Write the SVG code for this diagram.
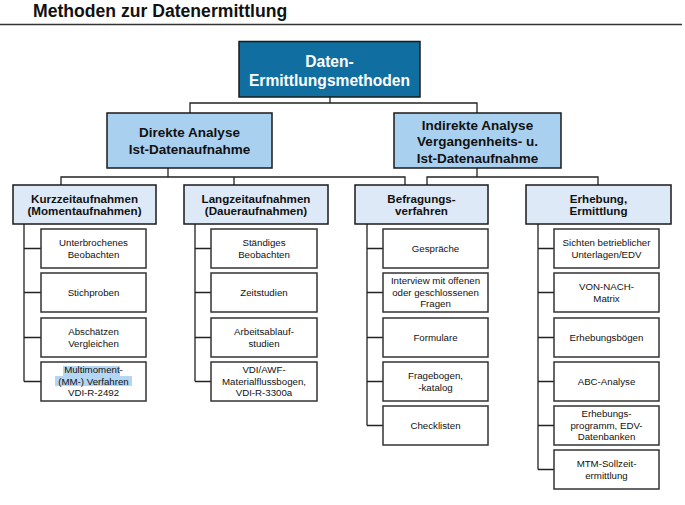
<svg xmlns="http://www.w3.org/2000/svg" width="685" height="505" viewBox="0 0 685 505">
<style>
text{font-family:"Liberation Sans",Arial,sans-serif;text-anchor:middle;fill:#111}
.title{font-size:17.6px;font-weight:bold;text-anchor:start}
.top rect{fill:#106ea1;stroke:#1a1a1a;stroke-width:1.5}
.top text{fill:#fff;font-size:15.6px;font-weight:bold}
.l2 rect{fill:#aad0f0;stroke:#1a1a1a;stroke-width:1.5}
.l2 text{font-size:13.5px;font-weight:bold}
.l3 rect{fill:#dde9f6;stroke:#1a1a1a;stroke-width:1.5}
.l3 text{font-size:11.6px;font-weight:bold}
.c rect{fill:#fff;stroke:#333;stroke-width:1.5}
.c text{font-size:9.7px}
.c rect.hl{fill:#b5d6f2;stroke:none}
#connectors path{fill:none;stroke:#222;stroke-width:1.3}
</style>
<rect width="685" height="505" fill="#fff"/>
<text class="title" x="33" y="16.5">Methoden zur Datenermittlung</text>
<line x1="0" y1="24.5" x2="682" y2="24.5" stroke="#333" stroke-width="1.6"/>

<g id="connectors">
<path d="M330,97V103M190,113V103H477V113"/>
<path d="M168,168V177M61,185V177H405V185M234,177V185"/>
<path d="M477,168V177M427,185V177H598V185"/>
<path d="M24,224V381.5M24,248.5H41M24,292.5H41M24,337.5H41M24,381.5H41"/>
<path d="M195,224V381.5M195,248.5H211M195,292.5H211M195,337.5H211M195,381.5H211"/>
<path d="M367,224V425.5M367,248.5H383M367,292.5H383M367,337.5H383M367,381.5H383M367,425.5H383"/>
<path d="M538,224V469.5M538,248.5H554M538,292.5H554M538,337.5H554M538,381.5H554M538,425.5H554M538,469.5H554"/>
</g>

<g id="n-top" class="top"><rect x="239" y="41.5" width="181" height="55.5"/><text x="329.5" y="66.6">Daten-</text><text x="329.5" y="85.6">Ermittlungsmethoden</text></g>

<g id="n-direkt" class="l2"><rect x="107" y="113" width="165" height="55"/><text x="189.5" y="137">Direkte Analyse</text><text x="189.5" y="153.5">Ist-Datenaufnahme</text></g>
<g id="n-indirekt" class="l2"><rect x="394" y="113" width="167" height="55"/><text x="477.5" y="129.8">Indirekte Analyse</text><text x="477.5" y="146.3">Vergangenheits- u.</text><text x="477.5" y="162.8">Ist-Datenaufnahme</text></g>

<g id="n-kurz" class="l3"><rect x="13" y="185" width="143" height="39"/><text x="84.5" y="202.8">Kurzzeitaufnahmen</text><text x="84.5" y="215">(Momentaufnahmen)</text></g>
<g id="n-lang" class="l3"><rect x="184" y="185" width="144" height="39"/><text x="256" y="202.8">Langzeitaufnahmen</text><text x="256" y="215">(Daueraufnahmen)</text></g>
<g id="n-befr" class="l3"><rect x="355" y="185" width="133" height="39"/><text x="421.5" y="202.8">Befragungs-</text><text x="421.5" y="215">verfahren</text></g>
<g id="n-erh" class="l3"><rect x="526" y="185" width="145" height="39"/><text x="598.5" y="202.8">Erhebung,</text><text x="598.5" y="215">Ermittlung</text></g>

<g id="k1" class="c"><rect x="41" y="229" width="105" height="39"/><text x="93.5" y="246.15">Unterbrochenes</text><text x="93.5" y="257.65">Beobachten</text></g>
<g id="k2" class="c"><rect x="41" y="273" width="105" height="39"/><text x="93.5" y="295.9">Stichproben</text></g>
<g id="k3" class="c"><rect x="41" y="318" width="105" height="39"/><text x="93.5" y="335.15">Abschätzen</text><text x="93.5" y="346.65">Vergleichen</text></g>
<g id="k4" class="c"><rect x="41" y="362" width="105" height="39"/><rect class="hl" x="63" y="366" width="57" height="10"/><rect class="hl" x="55" y="376" width="77" height="10"/><text x="93.5" y="373.4">Multimoment-</text><text x="93.5" y="384.9">(MM-) Verfahren</text><text x="93.5" y="396.4">VDI-R-2492</text></g>

<g id="l1" class="c"><rect x="211" y="229" width="106" height="39"/><text x="264" y="246.15">Ständiges</text><text x="264" y="257.65">Beobachten</text></g>
<g id="l2" class="c"><rect x="211" y="273" width="106" height="39"/><text x="264" y="295.9">Zeitstudien</text></g>
<g id="l3" class="c"><rect x="211" y="318" width="106" height="39"/><text x="264" y="335.15">Arbeitsablauf-</text><text x="264" y="346.65">studien</text></g>
<g id="l4" class="c"><rect x="211" y="362" width="106" height="39"/><text x="264" y="373.4">VDI/AWF-</text><text x="264" y="384.9">Materialflussbogen,</text><text x="264" y="396.4">VDI-R-3300a</text></g>

<g id="b1" class="c"><rect x="383" y="229" width="105" height="39"/><text x="435.5" y="251.9">Gespräche</text></g>
<g id="b2" class="c"><rect x="383" y="273" width="105" height="39"/><text x="435.5" y="284.4">Interview mit offenen</text><text x="435.5" y="295.9">oder geschlossenen</text><text x="435.5" y="307.4">Fragen</text></g>
<g id="b3" class="c"><rect x="383" y="318" width="105" height="39"/><text x="435.5" y="340.9">Formulare</text></g>
<g id="b4" class="c"><rect x="383" y="362" width="105" height="39"/><text x="435.5" y="379.15">Fragebogen,</text><text x="435.5" y="390.65">-katalog</text></g>
<g id="b5" class="c"><rect x="383" y="406" width="105" height="39"/><text x="435.5" y="428.9">Checklisten</text></g>

<g id="e1" class="c"><rect x="554" y="229" width="105" height="39"/><text x="606.5" y="246.15">Sichten betrieblicher</text><text x="606.5" y="257.65">Unterlagen/EDV</text></g>
<g id="e2" class="c"><rect x="554" y="273" width="105" height="39"/><text x="606.5" y="290.15">VON-NACH-</text><text x="606.5" y="301.65">Matrix</text></g>
<g id="e3" class="c"><rect x="554" y="318" width="105" height="39"/><text x="606.5" y="340.9">Erhebungsbögen</text></g>
<g id="e4" class="c"><rect x="554" y="362" width="105" height="39"/><text x="606.5" y="384.9">ABC-Analyse</text></g>
<g id="e5" class="c"><rect x="554" y="406" width="105" height="39"/><text x="606.5" y="417.4">Erhebungs-</text><text x="606.5" y="428.9">programm, EDV-</text><text x="606.5" y="440.4">Datenbanken</text></g>
<g id="e6" class="c"><rect x="554" y="450" width="105" height="39"/><text x="606.5" y="467.15">MTM-Sollzeit-</text><text x="606.5" y="478.65">ermittlung</text></g>
</svg>
